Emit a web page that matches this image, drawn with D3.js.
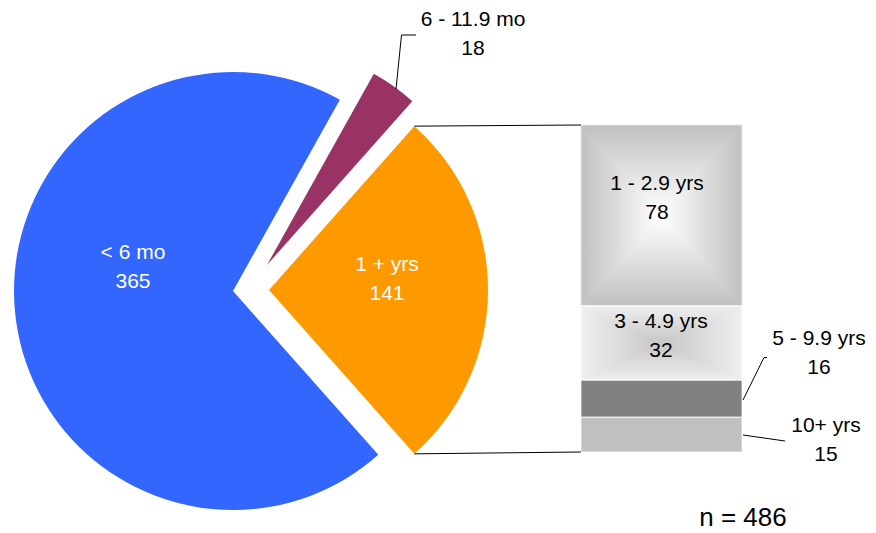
<!DOCTYPE html>
<html>
<head>
<meta charset="utf-8">
<script src="https://cdn.jsdelivr.net/npm/d3@7"></script>
<style>
  html, body { margin: 0; padding: 0; background: #fff; }
  svg { display: block; font-family: "Liberation Sans", Arial, sans-serif; }
</style>
</head>
<body>
<svg id="chart" width="876" height="533"></svg>
<script>
// ---- data ----
const pieCategories = ["6 - 11.9 mo", "1 + yrs", "< 6 mo"];
const pieValues = [18, 141, 365];
const barCategories = ["1 - 2.9 yrs", "3 - 4.9 yrs", "5 - 9.9 yrs", "10+ yrs"];
const barValues = [78, 32, 16, 15];
const sampleLabel = "n = 486";

// ---- layout / style ----
const W = 876, H = 533;
const pieCenter = [242, 290];
const radius = 219;
const explode = [[25, -25], [27, 0], [-9, 1]];
const pieColors = ["#993366", "#FF9900", "#3366FF"];
const pieLabelPos = [null, [387, 271], [133, 259]];
const pieLabelColor = ["#000", "#fff", "#fff"];
const bar = { x0: 581, x1: 742, y0: 125, y1: 452 };
const lineGap = 30;
const fontSize = 21;

const svg = d3.select("#chart");
const defs = svg.append("defs");

const total = d3.sum(pieValues);
const otherIdx = 1;
// orange ("other") slice centred on the right side
const startAngle = Math.PI / 2 - (pieValues[1] / total) * Math.PI - (pieValues[0] / total) * 2 * Math.PI;
const pie = d3.pie().sort(null).value(d => d)
  .startAngle(startAngle).endAngle(startAngle + 2 * Math.PI);
const arcs = pie(pieValues);
const arc = d3.arc().innerRadius(0).outerRadius(radius);

const pieG = svg.append("g");
arcs.forEach((a, i) => {
  pieG.append("path")
    .attr("d", arc(a))
    .attr("transform", `translate(${pieCenter[0] + explode[i][0]},${pieCenter[1] + explode[i][1]})`)
    .attr("fill", pieColors[i]);
});

// helper for multi-line label
function label(x, y, lines, color, size, anchor) {
  const t = svg.append("text")
    .attr("x", x).attr("y", y)
    .attr("text-anchor", anchor || "middle")
    .attr("font-size", size || fontSize)
    .attr("fill", color || "#000");
  lines.forEach((l, k) => {
    t.append("tspan").attr("x", x).attr("y", y + k * lineGap * ((size || fontSize) / fontSize) * (k ? 1 : 0) + (k ? 0 : 0)).text(l);
  });
  // fix tspan y
  t.selectAll("tspan").attr("y", (d, k) => y + k * (lineGap - 1));
  return t;
}

// pie labels
arcs.forEach((a, i) => {
  if (!pieLabelPos[i]) return;
  label(pieLabelPos[i][0], pieLabelPos[i][1], [pieCategories[i], String(pieValues[i])], pieLabelColor[i]);
});

// purple slice label with leader
svg.append("polyline")
  .attr("points", "396,89 401.5,35 416,35")
  .attr("fill", "none").attr("stroke", "#000").attr("stroke-width", 1);
label(473, 26, [pieCategories[0], String(pieValues[0])], "#000");

// ---- bar of pie ----
const yScale = d3.scaleLinear().domain([0, d3.sum(barValues)]).range([bar.y0, bar.y1]);
const cum = d3.cumsum(barValues);
const segs = barValues.map((v, i) => ({ v, y0: yScale(cum[i] - v), y1: yScale(cum[i]) }));

// rectangular "from center" gradient using 4 triangles
function centerGradientRect(g, x0, y0, x1, y1, edgeCol, centerCol, id) {
  const cx = (x0 + x1) / 2, cy = (y0 + y1) / 2;
  const dirs = [
    { name: "t", pts: [[x0, y0], [x1, y0], [cx, cy]], gx1: cx, gy1: y0, gx2: cx, gy2: cy },
    { name: "b", pts: [[x0, y1], [x1, y1], [cx, cy]], gx1: cx, gy1: y1, gx2: cx, gy2: cy },
    { name: "l", pts: [[x0, y0], [x0, y1], [cx, cy]], gx1: x0, gy1: cy, gx2: cx, gy2: cy },
    { name: "r", pts: [[x1, y0], [x1, y1], [cx, cy]], gx1: x1, gy1: cy, gx2: cx, gy2: cy }
  ];
  g.append("rect").attr("x", x0).attr("y", y0).attr("width", x1 - x0).attr("height", y1 - y0).attr("fill", d3.interpolateRgb(edgeCol, centerCol)(0.5));
  dirs.forEach(d => {
    const gid = id + d.name;
    const lg = defs.append("linearGradient").attr("id", gid)
      .attr("gradientUnits", "userSpaceOnUse")
      .attr("x1", d.gx1).attr("y1", d.gy1).attr("x2", d.gx2).attr("y2", d.gy2);
    lg.append("stop").attr("offset", 0).attr("stop-color", edgeCol);
    lg.append("stop").attr("offset", 1).attr("stop-color", centerCol);
    g.append("polygon")
      .attr("points", d.pts.map(p => p.join(",")).join(" "))
      .attr("fill", `url(#${gid})`)
      .attr("stroke", `url(#${gid})`).attr("stroke-width", 0.6);
  });
}

const barG = svg.append("g");
centerGradientRect(barG, bar.x0, segs[0].y0, bar.x1, segs[0].y1, "#c0c0c0", "#ffffff", "g0");
centerGradientRect(barG, bar.x0, segs[1].y0, bar.x1, segs[1].y1, "#efefef", "#c6c6c6", "g1");
barG.append("rect").attr("x", bar.x0).attr("y", segs[2].y0).attr("width", bar.x1 - bar.x0).attr("height", segs[2].y1 - segs[2].y0).attr("fill", "#808080");
barG.append("rect").attr("x", bar.x0).attr("y", segs[3].y0).attr("width", bar.x1 - bar.x0).attr("height", segs[3].y1 - segs[3].y0).attr("fill", "#c0c0c0");
// thin white separators
segs.forEach(s => {
  barG.append("rect").attr("x", bar.x0).attr("y", s.y0).attr("width", bar.x1 - bar.x0).attr("height", s.y1 - s.y0)
    .attr("fill", "none").attr("stroke", "#ffffff").attr("stroke-opacity", 0.7).attr("stroke-width", 1);
});

// connector lines from "other" slice to bar
const oa = arcs[otherIdx];
const oc = [pieCenter[0] + explode[otherIdx][0], pieCenter[1] + explode[otherIdx][1]];
const topPt = [oc[0] + radius * Math.sin(oa.startAngle), oc[1] - radius * Math.cos(oa.startAngle)];
const botPt = [oc[0] + radius * Math.sin(oa.endAngle), oc[1] - radius * Math.cos(oa.endAngle)];
svg.append("line").attr("x1", topPt[0]).attr("y1", topPt[1]).attr("x2", bar.x0).attr("y2", bar.y0).attr("stroke", "#000").attr("stroke-width", 1);
svg.append("line").attr("x1", botPt[0]).attr("y1", botPt[1]).attr("x2", bar.x0).attr("y2", bar.y1).attr("stroke", "#000").attr("stroke-width", 1);

// bar labels
label(657, 190, [barCategories[0], String(barValues[0])]);
label(661, 328, [barCategories[1], String(barValues[1])]);
svg.append("polyline").attr("points", "743,400 764,357.5 767,357.5").attr("fill", "none").attr("stroke", "#000").attr("stroke-width", 1);
label(819, 345, [barCategories[2], String(barValues[2])]);
svg.append("polyline").attr("points", "743,435 785,441").attr("fill", "none").attr("stroke", "#000").attr("stroke-width", 1);
label(826, 432, [barCategories[3], String(barValues[3])]);

// n label
svg.append("text").attr("x", 743).attr("y", 526).attr("text-anchor", "middle").attr("font-size", 26).attr("fill", "#000").text(sampleLabel);
</script>
</body>
</html>
